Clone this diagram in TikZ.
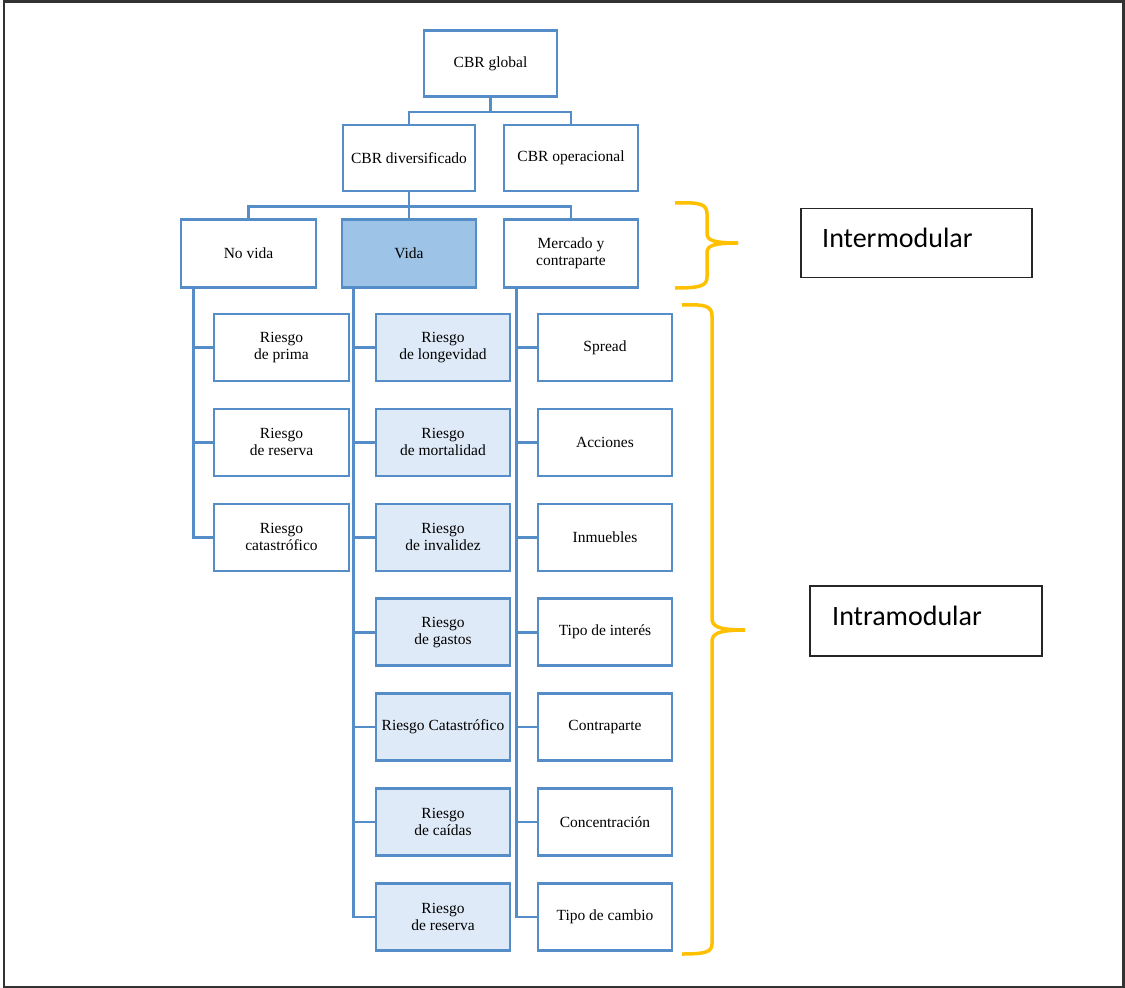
\documentclass[tikz,border=0pt]{standalone}
\usepackage{fontspec}
\setmainfont{Liberation Serif}
\newfontfamily\labelfont{Carlito}
\definecolor{boxblue}{RGB}{84,141,200}
\definecolor{vidafill}{RGB}{157,195,230}
\definecolor{childfill}{RGB}{222,234,247}
\definecolor{braceorange}{RGB}{255,192,0}
\begin{document}
\begin{tikzpicture}[x=1pt,y=-1pt,
  box/.style={draw=boxblue,line width=2.6pt,fill=white,minimum width=134pt,minimum height=67pt,
    inner sep=1pt,align=center,font=\fontsize{15.5}{17}\selectfont},
  vbox/.style={box,fill=childfill},
  conn/.style={draw=boxblue,line width=2.6pt},
  brace/.style={draw=braceorange,line width=3.5pt,line cap=butt},
  lab/.style={draw=black!85,line width=1.6pt,minimum height=69pt,inner sep=0pt},
  labtext/.style={font=\labelfont\fontsize{28}{30}\selectfont,anchor=base west,inner sep=0pt}
]
\useasboundingbox (0,0) rectangle (1125,988);
\draw[draw=black!80,line width=2.4pt] (4,1.5) rectangle (1123.5,987);

% top levels
\node[box,minimum width=133pt,minimum height=66pt] (g) at (490.5,63.5) {CBR global};
\node[box,minimum width=132pt,minimum height=66pt] (d) at (409,158) {CBR diversificado};
\node[box,minimum height=66pt] (o) at (571,158) {CBR operacional};
\node[box,minimum width=135pt,minimum height=68pt] (nv) at (248.5,253.5) {No vida};
\node[box,fill=vidafill,minimum height=68pt] (v) at (409,253.5) {Vida};
\node[box,minimum height=68pt] (m) at (571,253.5) {Mercado y\\contraparte};

% No vida children
\node[box,minimum width=135pt] (n1) at (281.5,347.5) {Riesgo\\de prima};
\node[box,minimum width=135pt] (n2) at (281.5,442.4) {Riesgo\\de reserva};
\node[box,minimum width=135pt] (n3) at (281.5,537.3) {Riesgo\\catastrófico};

% Vida children
\node[vbox] (v1) at (443,347.5) {Riesgo\\de longevidad};
\node[vbox] (v2) at (443,442.4) {Riesgo\\de mortalidad};
\node[vbox] (v3) at (443,537.3) {Riesgo\\de invalidez};
\node[vbox] (v4) at (443,632.2) {Riesgo\\de gastos};
\node[vbox] (v5) at (443,727.1) {Riesgo Catastrófico};
\node[vbox] (v6) at (443,822) {Riesgo\\de caídas};
\node[vbox] (v7) at (443,916.9) {Riesgo\\de reserva};

% Mercado children
\node[box] (m1) at (605,347.5) {Spread};
\node[box] (m2) at (605,442.4) {Acciones};
\node[box] (m3) at (605,537.3) {Inmuebles};
\node[box] (m4) at (605,632.2) {Tipo de interés};
\node[box] (m5) at (605,727.1) {Contraparte};
\node[box] (m6) at (605,822) {Concentración};
\node[box] (m7) at (605,916.9) {Tipo de cambio};

% connectors between levels
\draw[conn] (g.south) -- ++(0,14) -| (d.north);
\draw[conn] (g.south) -- ++(0,14) -| (o.north);
\draw[conn] (d.south) -- ++(0,14) -| (nv.north);
\draw[conn] (d.south) -- (v.north);
\draw[conn] (d.south) -- ++(0,14) -| (m.north);

% trunks
\foreach \c in {n1,n2,n3} \draw[conn] ([xshift=14pt]nv.south west) |- (\c.west);
\foreach \c in {v1,v2,v3,v4,v5,v6,v7} \draw[conn] ([xshift=13pt]v.south west) |- (\c.west);
\foreach \c in {m1,m2,m3,m4,m5,m6,m7} \draw[conn] ([xshift=14pt]m.south west) |- (\c.west);

% redraw boxes on top of connector ends
% braces
\draw[brace] (675,203) .. controls (700,202) and (707,204) .. (707,214) -- (707,233)
  .. controls (707,240) and (712,243) .. (738,243);
\draw[brace] (738,243) .. controls (712,243) and (707,246) .. (707,253) -- (707,277)
  .. controls (707,286) and (700,288) .. (675,288);
\draw[brace] (682,305) .. controls (705,304) and (712,306) .. (712,316) -- (712,618)
  .. controls (712,626) and (717,630) .. (745,630);
\draw[brace] (745,630) .. controls (717,630) and (712,634) .. (712,642) -- (712,944)
  .. controls (712,952) and (705,954) .. (682,954);

% labels
\node[lab,minimum width=231pt] (inter) at (916.5,243) {};
\node[labtext] (intert) at (822,247) {Intermodular};
\node[lab,minimum width=232pt,minimum height=70pt] (intra) at (926,621) {};
\node[labtext] (intrat) at (832,625) {Intramodular};
\end{tikzpicture}
\end{document}
